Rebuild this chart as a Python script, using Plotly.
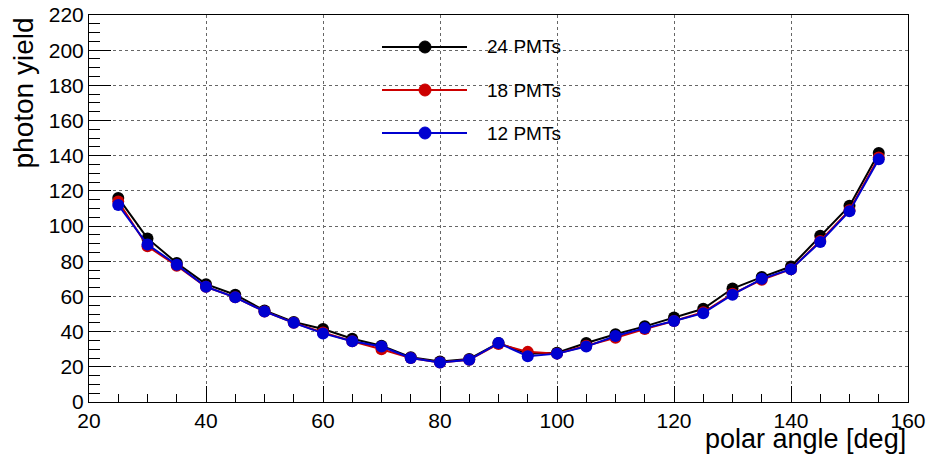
import plotly.graph_objects as go

# ---- data ----
polar_angle = [25, 30, 35, 40, 45, 50, 55, 60, 65, 70, 75, 80, 85, 90,
               95, 100, 105, 110, 115, 120, 125, 130, 135, 140, 145, 150, 155]
yield_24 = [116, 93, 79, 67, 61, 52, 45.5, 41.5, 36, 32, 25.5, 23, 24.5, 33.5,
            27.5, 28, 33.5, 38.5, 43, 48, 53, 64.5, 71, 77, 94.5, 111.5, 141.5]
yield_18 = [114, 88.5, 77.5, 65.5, 59.5, 51.5, 45, 39.5, 34.5, 30, 25, 22.5, 24, 33,
            28.5, 27.5, 32, 36.5, 41.5, 46, 51, 61.5, 69.5, 75.5, 91.5, 109, 139]
yield_12 = [112, 89.5, 78, 65.5, 59.5, 51.5, 45, 39, 34.5, 31.5, 25, 22.5, 24, 33.5,
            26, 27.5, 31.5, 37.5, 42, 46, 50.5, 61, 70, 75.5, 91, 108.5, 138]

series_names = ["24 PMTs", "18 PMTs", "12 PMTs"]
series_values = [yield_24, yield_18, yield_12]
series_colors = ["#000000", "#cc0000", "#0000d0"]

FONT = "Liberation Sans, Arial, Helvetica, sans-serif"

W, H = 931, 456
L, R, T, B = 89, 23, 15, 54
pw, ph = W - L - R, H - T - B

fig = go.Figure()
for name, vals, col in zip(series_names, series_values, series_colors):
    fig.add_trace(go.Scatter(
        x=polar_angle, y=vals, name=name, mode="lines+markers",
        line=dict(color=col, width=2),
        marker=dict(color=col, size=12, symbol="circle"),
        showlegend=False,
    ))

# custom ROOT-style legend
leg_x0, leg_x1, leg_mark, leg_text = 382, 467, 425, 485
leg_rows = [47, 90, 133]
def px_x(p):
    return (p - L) / pw
def px_y(p):
    return (H - B - p) / ph

for name, col, row in zip(series_names, series_colors, leg_rows):
    fig.add_shape(type="line", xref="paper", yref="paper",
                  x0=px_x(leg_x0), x1=px_x(leg_x1), y0=px_y(row), y1=px_y(row),
                  line=dict(color=col, width=2))
    fig.add_shape(type="circle", xref="paper", yref="paper",
                  xsizemode="pixel", ysizemode="pixel",
                  xanchor=px_x(leg_mark), yanchor=px_y(row),
                  x0=-6, x1=6, y0=-6, y1=6,
                  fillcolor=col, line=dict(color=col, width=1))
    fig.add_annotation(xref="paper", yref="paper", x=px_x(leg_text), y=px_y(row),
                       xanchor="left", yanchor="middle", text=name, showarrow=False,
                       font=dict(family=FONT, size=19, color="black"))

# axis titles
fig.add_annotation(xref="paper", yref="paper", x=1, y=px_y(439),
                   xanchor="right", yanchor="middle", text="polar angle [deg]",
                   showarrow=False, font=dict(family=FONT, size=27, color="black"))
fig.add_annotation(xref="paper", yref="paper", x=px_x(23), y=px_y(16),
                   xanchor="center", yanchor="top", text="photon yield", textangle=-90,
                   showarrow=False, font=dict(family=FONT, size=28, color="black"))

axis_common = dict(
    showline=True, linecolor="black", linewidth=1, mirror=True,
    ticks="inside", tickcolor="black", tickwidth=1,
    showgrid=True, gridcolor="#666666", griddash="dot", gridwidth=1,
    zeroline=False, automargin=False,
    tickfont=dict(family=FONT, size=21, color="black"),
)

fig.update_xaxes(range=[20, 160], dtick=20, tick0=20, ticklen=16,
                 minor=dict(dtick=5, ticks="inside", ticklen=8, tickcolor="black", showgrid=False),
                 **axis_common)
fig.update_yaxes(range=[0, 220], dtick=20, tick0=0, ticklen=22,
                 minor=dict(dtick=5, ticks="inside", ticklen=11, tickcolor="black", showgrid=False),
                 **axis_common)

fig.update_layout(
    width=W, height=H,
    margin=dict(l=L, r=R, t=T, b=B, autoexpand=False),
    paper_bgcolor="white", plot_bgcolor="white",
    font=dict(family=FONT, color="black"),
)

fig.write_html("out.html", config={"displayModeBar": False},
               post_script="document.body.style.margin='0';document.body.style.overflow='hidden';")
